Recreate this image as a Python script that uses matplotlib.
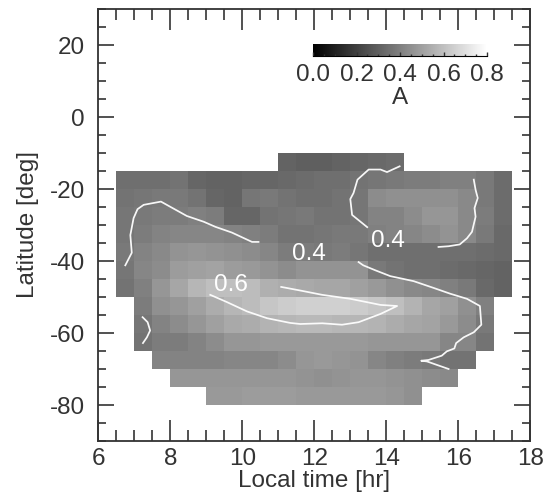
import numpy as np
import matplotlib
matplotlib.use("Agg")
import matplotlib.pyplot as plt
from matplotlib.ticker import MultipleLocator

plt.rcParams['font.family'] = ['Liberation Sans', 'DejaVu Sans']
plt.rcParams['axes.unicode_minus'] = False
n = np.nan

x_edges = np.arange(6.5, 17.51, 0.5)
y_edges = np.arange(-10, -80.1, -5)

A_values = [
 [n,n,n,n,n,n,n,n,n,.31,.30,.30,.31,.32,.33,.34,n,n,n,n,n,n],
 [.35,.35,.35,.36,.32,.31,.31,.32,.32,.33,.34,.35,.35,.36,.37,.38,.39,.39,.40,.40,.38,.34],
 [.36,.37,.38,.38,.36,.32,.31,.37,.38,.36,.35,.35,.36,.37,.44,.45,.45,.45,.45,.43,.38,.34],
 [.37,.38,.39,.39,.40,.39,.32,.32,.36,.37,.38,.36,.36,.37,.41,.41,.44,.47,.47,.43,.39,.34],
 [.37,.39,.41,.42,.42,.42,.41,.40,.39,.36,.36,.37,.38,.38,.40,.41,.42,.44,.46,.43,.38,.33],
 [.38,.41,.43,.46,.47,.46,.45,.44,.42,.39,.39,.38,.39,.37,.35,.35,.35,.35,.35,.35,.34,.33],
 [.37,.42,.44,.49,.50,.51,.49,.48,.46,.44,.46,.46,.46,.46,.38,.36,.35,.35,.34,.33,.32,.31],
 [.36,.40,.47,.52,.57,.60,.60,.59,.55,.54,.53,.52,.52,.50,.48,.45,.43,.42,.40,.38,.33,.31],
 [n,.39,.45,.47,.50,.54,.57,.59,.62,.64,.65,.65,.65,.64,.62,.60,.56,.52,.50,.45,.40,n],
 [n,.37,.41,.44,.47,.50,.53,.54,.56,.57,.58,.58,.57,.57,.56,.54,.52,.51,.48,.44,.38,n],
 [n,.36,.39,.39,.41,.44,.47,.47,.48,.48,.48,.48,.48,.48,.47,.47,.47,.47,.42,.42,.36,n],
 [n,n,.41,.41,.41,.41,.42,.42,.42,.44,.47,.48,.47,.46,.42,.40,.39,.38,.36,.36,n,n],
 [n,n,n,.47,.47,.47,.47,.47,.47,.47,.46,.45,.46,.47,.47,.46,.45,.44,.43,n,n,n],
 [n,n,n,n,n,.48,.48,.49,.49,.49,.48,.48,.48,.48,.48,.47,.45,n,n,n,n,n],
]

c1_x = [6.75,6.93,6.89,6.98,7.09,7.26,7.74,8.46,8.93,9.25,9.71,10.27,10.45]
c1_y = [-41.2,-37.7,-32.8,-28.1,-25.6,-24.4,-23.5,-27.5,-29.1,-30.5,-32.1,-34.7,-34.7]
c2_x = [14.37,14.02,13.84,13.51,13.20,13.09,13.00,13.05,13.47]
c2_y = [-13.7,-15.3,-14.6,-14.6,-17.4,-21.1,-22.8,-27.2,-30.6]
c3_x = [16.43,16.48,16.54,16.45,16.48,16.38,16.24,16.04,15.73,15.45]
c3_y = [-17.4,-20.2,-22.5,-25.3,-27.7,-31.9,-33.7,-35.4,-35.9,-36.1]
c4_x = [13.23,13.36,13.70,14.11,14.76,15.32,15.78,16.24,16.60,16.64,16.43,16.15,15.94,15.89,15.68,15.54,15.17,14.97,15.13,15.73]
c4_y = [-40.3,-41.2,-42.6,-44.2,-45.6,-47.5,-49.1,-50.5,-52.5,-57.7,-59.8,-61.2,-62.8,-64.3,-65.1,-66.3,-67.5,-67.7,-67.9,-70.0]
c5_x = [11.08,11.61,12.22,13.00,13.84,14.30,13.84,13.23,12.77,12.22,11.61,11.33,10.69,10.13,9.57,9.11]
c5_y = [-47.2,-48.2,-49.4,-50.5,-52.2,-52.5,-54.7,-57.0,-57.7,-57.3,-57.5,-57.2,-55.9,-54.0,-51.4,-49.4]
c6_x = [7.23,7.37,7.44,7.35,7.24]
c6_y = [-55.6,-57.0,-59.3,-61.2,-62.8]
contours = [(c1_x,c1_y),(c2_x,c2_y),(c3_x,c3_y),(c4_x,c4_y),(c5_x,c5_y),(c6_x,c6_y)]
label_texts = ['0.4','0.4','0.6']
label_x = [11.86,14.05,9.69]
label_y = [-38.1,-34.4,-46.8]
cb_ticks = [0.0,0.2,0.4,0.6,0.8]
x_ticks = [6,8,10,12,14,16,18]
y_ticks = [-80,-60,-40,-20,0,20]

W,H = 556,495
INK = '#333333'
FS = 17.5
fig = plt.figure(figsize=(W/100,H/100),dpi=100)
ax = fig.add_axes([98.3/W, 1-441/H, 432/W, 432/H])
mesh = ax.pcolormesh(x_edges, y_edges, np.ma.masked_invalid(np.array(A_values)), cmap='gray', vmin=0, vmax=0.8, linewidth=0, rasterized=True)
for cx,cy in contours:
    ax.plot(cx,cy,color='white',lw=1.25,solid_joinstyle='round',alpha=0.95)
for t,lx,ly in zip(label_texts,label_x,label_y):
    ax.text(lx,ly,t,color='white',fontsize=FS,ha='center',va='center')
ax.set_xlim(6,18); ax.set_ylim(-90,30)
ax.set_xticks(x_ticks); ax.set_yticks(y_ticks)
ax.xaxis.set_minor_locator(MultipleLocator(0.5))
ax.yaxis.set_minor_locator(MultipleLocator(5))
ax.tick_params(axis='x',which='major',direction='in',top=True,length=15,width=1.2,color=INK,labelcolor=INK,labelsize=FS,pad=5)
ax.tick_params(axis='x',which='minor',direction='in',top=True,length=8,width=1.2,color=INK)
ax.tick_params(axis='y',which='major',direction='in',right=True,length=11.5,width=1.2,color=INK,labelcolor=INK,labelsize=FS,pad=9.5)
ax.tick_params(axis='y',which='minor',direction='in',right=True,length=6,width=1.2,color=INK)
for s in ax.spines.values():
    s.set_linewidth(1.3); s.set_color(INK)
ax.set_xlabel('Local time [hr]',fontsize=FS,color=INK,labelpad=0)
ax.yaxis.set_label_coords(28/W*556/432-98.3/432, 0.5)
ax.set_ylabel('Latitude [deg]',fontsize=FS,color=INK)
ax.yaxis.label.set_verticalalignment('center')

cax = fig.add_axes([313/W, 1-56/H, 174/W, 12/H])
cb = fig.colorbar(mesh, cax=cax, orientation='horizontal', ticks=cb_ticks)
cb.outline.set_visible(False)
cb.ax.spines['bottom'].set_visible(True)
cax.xaxis.set_minor_locator(MultipleLocator(0.05))
cax.tick_params(which='major',direction='in',bottom=True,length=3,width=1,color=INK,labelcolor=INK,labelsize=FS,pad=5.5)
cax.tick_params(which='minor',direction='in',bottom=True,length=1.5,width=1,color=INK)
cax.set_xticklabels(['0.0','0.2','0.4','0.6','0.8'])
cb.set_label('A',fontsize=FS,color=INK,labelpad=1)
fig.savefig('out.png',dpi=100)
